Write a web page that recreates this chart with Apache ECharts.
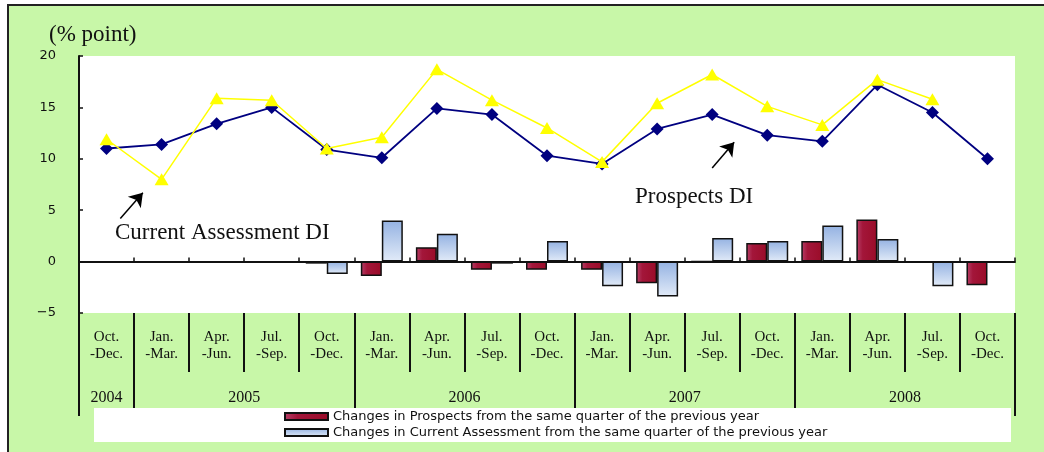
<!DOCTYPE html>
<html>
<head>
<meta charset="utf-8">
<script src="https://cdn.jsdelivr.net/npm/echarts@6/dist/echarts.min.js"></script>
<style>
  html, body { margin: 0; padding: 0; background: #fff; overflow: hidden; }
  #frame { position: absolute; left: 7px; top: 4px; width: 1040px; height: 450px;
           background: #c8f7a8; border-top: 2px solid #222; border-left: 2px solid #222; }
  #chart { position: absolute; left: 0; top: 0; width: 1044px; height: 452px; }
</style>
</head>
<body>
<div id="frame"></div>
<div id="chart"></div>
<script>
// Quarterly labels (Oct.-Dec. 2004 through Oct.-Dec. 2008)
const quarters = [
  'Oct.\n-Dec.',
  'Jan.\n-Mar.', 'Apr.\n-Jun.', 'Jul.\n-Sep.', 'Oct.\n-Dec.',
  'Jan.\n-Mar.', 'Apr.\n-Jun.', 'Jul.\n-Sep.', 'Oct.\n-Dec.',
  'Jan.\n-Mar.', 'Apr.\n-Jun.', 'Jul.\n-Sep.', 'Oct.\n-Dec.',
  'Jan.\n-Mar.', 'Apr.\n-Jun.', 'Jul.\n-Sep.', 'Oct.\n-Dec.'
];
const years = ['2004', '2005', '2006', '2007', '2008'];
const quartersPerYear = [1, 4, 4, 4, 4];

const yTicks = [-5, 0, 5, 10, 15, 20];

// Diffusion indices (% point)
const prospectsDI = [11.0, 11.4, 13.4, 15.0, 10.9, 10.1, 14.9, 14.3, 10.3, 9.5, 12.9, 14.3, 12.3, 11.7, 17.2, 14.5, 10.0];
const currentDI   = [11.9, 8.0, 15.9, 15.7, 11.0, 12.1, 18.7, 15.7, 13.0, 9.7, 15.4, 18.2, 15.1, 13.3, 17.7, 15.8, null];

// Changes from the same quarter of the previous year
const prospectsChange = [null, null, null, null, -0.2, -1.4, 1.4, -0.8, -0.8, -0.8, -2.1, 0.0, 1.8, 2.0, 4.1, -0.1, -2.3];
const currentChange   = [null, null, null, null, -1.2, 4.0, 2.7, -0.2, 2.0, -2.4, -3.4, 2.3, 2.0, 3.5, 2.2, -2.4, null];

const seriesNames = {
  prospectsChange: 'Changes in Prospects from the same quarter of the previous year',
  currentChange: 'Changes in Current Assessment from the same quarter of the previous year',
  prospectsDI: 'Prospects DI',
  currentDI: 'Current Assessment DI'
};

// Year boundaries and year-label centres along a 0..N quarter scale
const yearBounds = [0];
quartersPerYear.forEach(n => yearBounds.push(yearBounds[yearBounds.length - 1] + n));
const yearCentres = years.map((y, i) => (yearBounds[i] + yearBounds[i + 1]) / 2);

const serif = '"Liberation Serif", "DejaVu Serif", serif';
const gothic = '"DejaVu Sans", "Noto Sans", sans-serif';
const ink = '#111';

const redFill = new echarts.graphic.LinearGradient(0, 0, 1, 0, [
  { offset: 0, color: '#b8416a' },
  { offset: 0.3, color: '#a3163a' },
  { offset: 1, color: '#9a0c28' }
]);
const blueFill = new echarts.graphic.LinearGradient(0, 0, 0, 1, [
  { offset: 0, color: '#94b2e2' },
  { offset: 1, color: '#e2ebf8' }
]);

const chart = echarts.init(document.getElementById('chart'), null, { renderer: 'canvas' });

chart.setOption({
  backgroundColor: 'transparent',
  animation: false,
  title: {
    text: '(% point)',
    left: 44,
    top: 18,
    textStyle: { fontFamily: serif, fontSize: 23, fontWeight: 'normal', color: ink }
  },
  grid: {
    left: 79, right: 29, top: 56, bottom: 139,
    show: true, backgroundColor: '#fff', borderWidth: 0
  },
  legend: {
    orient: 'vertical',
    left: 284,
    top: 410,
    padding: 0,
    itemGap: 3,
    itemWidth: 43,
    itemHeight: 7,
    icon: 'rect',
    selectedMode: false,
    data: [seriesNames.prospectsChange, seriesNames.currentChange],
    textStyle: { fontFamily: gothic, fontSize: 13, color: ink, padding: [0, 0, 0, 0] }
  },
  graphic: [
    { type: 'rect', z: 3, shape: { x: 94, y: 408, width: 917, height: 34 }, style: { fill: '#fff' } },
    { type: 'text', z: 5, left: 115, top: 221,
      style: { text: 'Current Assessment DI', font: '23px ' + serif, fill: ink } },
    { type: 'text', z: 5, left: 635, top: 185,
      style: { text: 'Prospects DI', font: '23px ' + serif, fill: ink } }
  ],
  xAxis: [
    { // data axis, drawn along the zero line
      type: 'category',
      data: quarters,
      position: 'bottom',
      boundaryGap: true,
      axisLine: { onZero: true, lineStyle: { color: ink, width: 2 } },
      axisTick: { show: true, inside: true, length: 4, interval: 0, lineStyle: { color: ink, width: 1.5 } },
      axisLabel: { show: false },
      splitLine: { show: false }
    },
    { // quarter labels beneath the plot
      type: 'category',
      data: quarters,
      position: 'bottom',
      boundaryGap: true,
      axisLine: { show: false, onZero: false },
      axisTick: { show: true, length: 59, interval: 0, lineStyle: { color: ink, width: 2 } },
      axisLabel: { interval: 0, margin: 16, lineHeight: 17, fontFamily: serif, fontSize: 15, color: ink },
      splitLine: { show: false }
    },
    { // year row
      type: 'value',
      min: 0,
      max: quarters.length,
      position: 'bottom',
      axisLine: { show: false, onZero: false },
      axisTick: { show: true, length: 103, customValues: yearBounds, lineStyle: { color: ink, width: 2 } },
      axisLabel: {
        margin: 77, fontFamily: serif, fontSize: 16, color: ink,
        customValues: yearCentres,
        formatter: v => years[yearCentres.indexOf(v)] || ''
      },
      splitLine: { show: false }
    }
  ],
  yAxis: {
    type: 'value',
    min: yTicks[0],
    max: yTicks[yTicks.length - 1],
    interval: yTicks[1] - yTicks[0],
    axisLine: { show: true, onZero: false, lineStyle: { color: ink, width: 2 } },
    axisTick: { show: true, inside: true, length: 4, lineStyle: { color: ink, width: 1.5 } },
    axisLabel: {
      margin: 23, fontFamily: gothic, fontSize: 13, color: ink,
      formatter: v => (v < 0 ? '\u2212' + Math.abs(v) : String(v))
    },
    splitLine: { show: false }
  },
  series: [
    {
      name: seriesNames.prospectsChange,
      type: 'bar',
      xAxisIndex: 0,
      data: prospectsChange,
      barWidth: 21,
      barGap: '0%',
      itemStyle: { color: redFill, borderColor: '#111', borderWidth: 1.5 }
    },
    {
      name: seriesNames.currentChange,
      type: 'bar',
      xAxisIndex: 0,
      data: currentChange,
      barWidth: 21,
      barGap: '0%',
      itemStyle: { color: blueFill, borderColor: '#111', borderWidth: 1.5 }
    },
    {
      name: seriesNames.prospectsDI,
      type: 'line',
      xAxisIndex: 0,
      data: prospectsDI,
      symbol: 'diamond',
      symbolSize: [13, 13],
      z: 3,
      lineStyle: { color: '#000080', width: 1.8 },
      itemStyle: { color: '#000080' }
    },
    {
      name: seriesNames.currentDI,
      type: 'line',
      xAxisIndex: 0,
      data: currentDI,
      symbol: 'triangle',
      symbolSize: [14, 12],
      z: 4,
      lineStyle: { color: '#ffff00', width: 1.5 },
      itemStyle: { color: '#ffff00' }
    },
    { // pointer arrows for the two line labels
      type: 'line',
      xAxisIndex: 2,
      data: [],
      silent: true,
      markLine: {
        silent: true,
        symbol: ['none', 'arrow'],
        symbolSize: 13,
        label: { show: false },
        itemStyle: { color: '#000' },
        lineStyle: { color: '#000', width: 1.5, type: 'solid' },
        data: [
          [{ coord: [0.75, 4.2] }, { coord: [1.16, 6.7] }],
          [{ coord: [11.5, 9.1] }, { coord: [11.9, 11.6] }]
        ]
      }
    }
  ]
});
</script>
</body>
</html>
